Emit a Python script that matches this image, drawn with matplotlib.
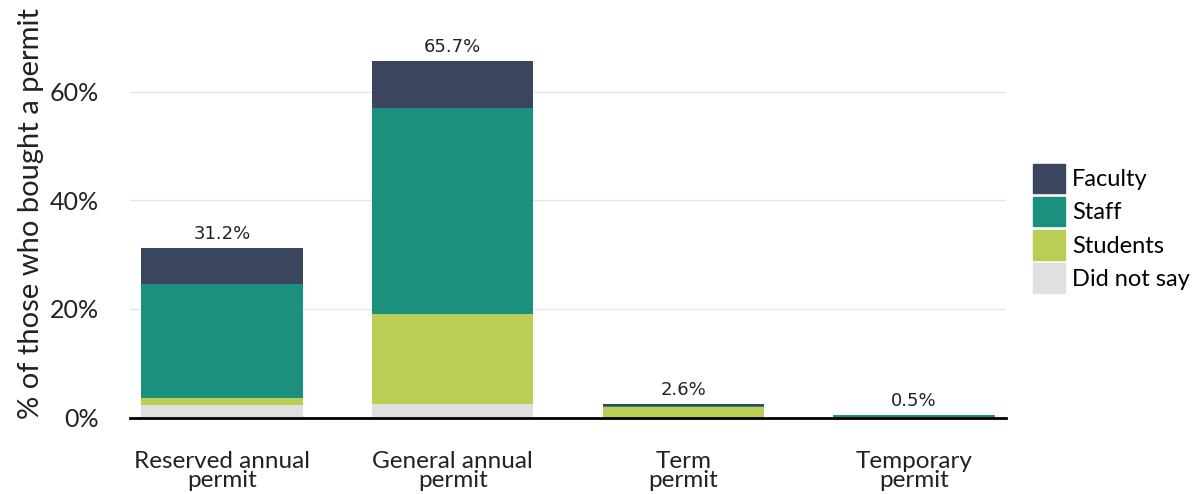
import matplotlib
matplotlib.use("Agg")
import matplotlib.pyplot as plt
from matplotlib.patches import Patch
import numpy as np

categories = ["Reserved annual\npermit", "General annual\npermit", "Term\npermit", "Temporary\npermit"]
did_not_say = [2.4, 2.5, 0.0, 0.0]
students = [1.3, 16.5, 2.0, 0.0]
staff = [20.9, 37.9, 0.2, 0.5]
faculty = [6.6, 8.8, 0.4, 0.0]
totals = [31.2, 65.7, 2.6, 0.5]
series_names = ["Did not say", "Students", "Staff", "Faculty"]
colors = {"Faculty": "#3a465e", "Staff": "#1b907c", "Students": "#bccd55", "Did not say": "#e0e0e0"}

plt.rcParams['font.family'] = ['Lato', 'DejaVu Sans']
fig = plt.figure(figsize=(12.02, 4.94), dpi=100)
ax = fig.add_axes([0.108, 0.1545, 0.729, 0.825])

x = np.arange(len(categories))
bottom = np.zeros(len(categories))
for name, vals in zip(series_names, [did_not_say, students, staff, faculty]):
    ax.bar(x, vals, width=0.7, bottom=bottom, color=colors[name], zorder=3)
    bottom += np.array(vals)

for xi, t in zip(x, totals):
    ax.text(xi, t + 0.9, f"{t:.1f}%", ha="center", va="bottom", fontsize=13,
            family="DejaVu Sans", color="#222222")

ax.set_xlim(-0.40, 3.40)
ax.set_ylim(0, 75)
ax.set_yticks([0, 20, 40, 60])
ax.set_yticklabels(["0%", "20%", "40%", "60%"], fontsize=18, color="#222222")
ax.set_xticks(x)
ax.set_xticklabels(categories, fontsize=17.5, color="#222222", linespacing=0.9)
ax.tick_params(axis="y", length=0, pad=22)
ax.tick_params(axis="x", length=0, pad=24)
ax.grid(axis="y", color="#e6e6e6", linewidth=1, zorder=0)
for s in ["top", "right", "left"]:
    ax.spines[s].set_visible(False)
ax.spines["bottom"].set_linewidth(2)
ax.spines["bottom"].set_color("black")
ax.spines["bottom"].set_zorder(4)
ax.set_ylabel("% of those who bought a permit", fontsize=21, color="#222222", labelpad=4)

handles = [Patch(color=colors[n]) for n in ["Faculty", "Staff", "Students", "Did not say"]]
fig.legend(handles, ["Faculty", "Staff", "Students", "Did not say"], loc="center left",
           bbox_to_anchor=(0.8595, 0.538), frameon=False, fontsize=17,
           handlelength=1.35, handleheight=1.55, handletextpad=0.3, labelspacing=0.15,
           borderaxespad=0, borderpad=0)

fig.savefig("out.png", dpi=100)
